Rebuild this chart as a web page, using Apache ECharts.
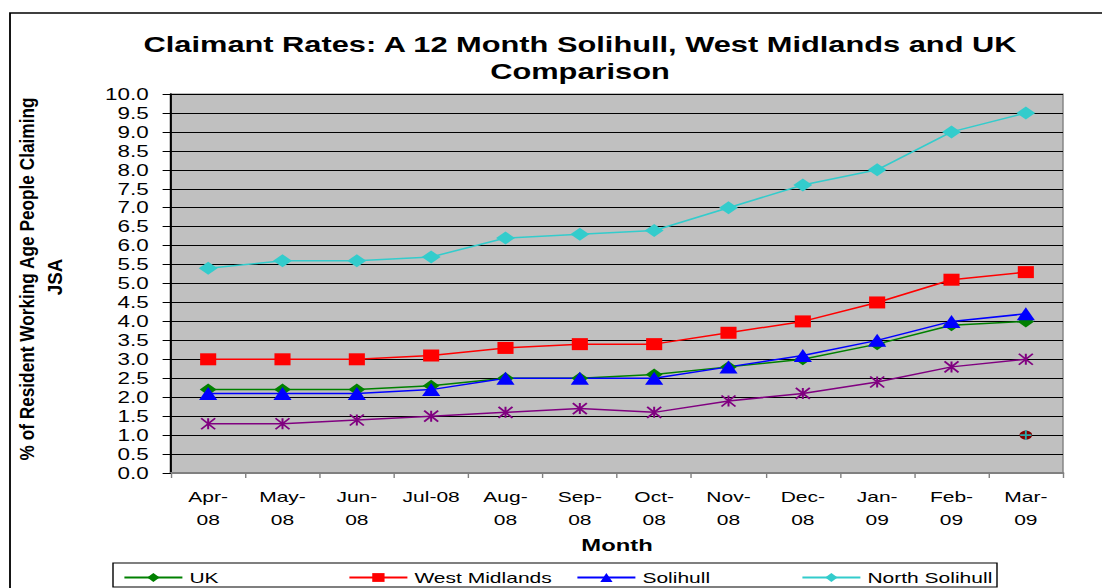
<!DOCTYPE html>
<html><head><meta charset="utf-8">
<script src="https://cdn.jsdelivr.net/npm/echarts@6/dist/echarts.min.js"></script>
<style>
html,body{margin:0;padding:0;overflow:hidden;background:#fff;width:1102px;height:588px}
#wrap{width:1102px;height:588px;overflow:hidden;position:relative;background:#fff}
#c{position:absolute;left:0;top:0;width:787px;height:588px;transform:scaleX(1.40025);transform-origin:0 0}
</style></head>
<body><div id="wrap"><div id="c"></div></div>
<script>
const S = 1102 / 787;
const months = ['Apr-08','May-08','Jun-08','Jul-08','Aug-08','Sep-08','Oct-08','Nov-08','Dec-08','Jan-09','Feb-09','Mar-09'];
const monthLabels = ['Apr-\n08','May-\n08','Jun-\n08','Jul-08','Aug-\n08','Sep-\n08','Oct-\n08','Nov-\n08','Dec-\n08','Jan-\n09','Feb-\n09','Mar-\n09'];
const yTicks = ['0.0','0.5','1.0','1.5','2.0','2.5','3.0','3.5','4.0','4.5','5.0','5.5','6.0','6.5','7.0','7.5','8.0','8.5','9.0','9.5','10.0'];
const seriesNames = ['UK','West Midlands','Solihull','North Solihull','Non North Solihull','Series 6','Series 7'];
const uk       = [2.2,2.2,2.2,2.3,2.5,2.5,2.6,2.8,3.0,3.4,3.9,4.0];
const westMid  = [3.0,3.0,3.0,3.1,3.3,3.4,3.4,3.7,4.0,4.5,5.1,5.3];
const solihull = [2.1,2.1,2.1,2.2,2.5,2.5,2.5,2.8,3.1,3.5,4.0,4.2];
const northSol = [5.4,5.6,5.6,5.7,6.2,6.3,6.4,7.0,7.6,8.0,9.0,9.5];
const nonNorth = [1.3,1.3,1.4,1.5,1.6,1.7,1.6,1.9,2.1,2.4,2.8,3.0];
const series6  = [null,null,null,null,null,null,null,null,null,null,null,1.0];
const series7  = [null,null,null,null,null,null,null,null,null,null,null,1.0];

const FONT = 'Liberation Sans, Arial, sans-serif';
const chart = echarts.init(document.getElementById('c'), null, {renderer: 'svg'});

function mk(name, data, color, symbol, size, extra) {
  return Object.assign({
    name: name, type: 'line', data: data,
    symbol: symbol, symbolSize: size, showSymbol: true,
    lineStyle: {color: color, width: 1.5},
    itemStyle: {color: color, borderWidth: 0},
    emphasis: {disabled: true},
    animation: false
  }, extra || {});
}

const legendPos = [
  {x: 123, y: 570}, {x: 348, y: 570}, {x: 576, y: 570}, {x: 801, y: 570},
  {x: 123, y: 587}, {x: 348, y: 587}, {x: 576, y: 587}
];

const option = {
  backgroundColor: '#fff',
  animation: false,
  title: {
    text: 'Claimant Rates: A 12 Month Solihull, West Midlands and UK\nComparison',
    left: 580 / S, top: 31, padding: 0, textAlign: 'center',
    textStyle: {fontFamily: FONT, fontSize: 22, fontWeight: 'bold', color: '#000', lineHeight: 27}
  },
  legend: legendPos.map((p, i) => ({
    data: [seriesNames[i]],
    left: p.x / S, top: p.y, padding: 0,
    itemWidth: 58 / S, itemHeight: 11,
    selectedMode: false,
    textStyle: {fontFamily: FONT, fontSize: 15, color: '#000', padding: [0, 0, 0, 0]}
  })),
  grid: {
    left: 171 / S, right: 787 - 1063 / S, top: 94, bottom: 588 - 473,
    show: true, backgroundColor: '#C0C0C0', borderColor: '#808080', borderWidth: 1
  },
  xAxis: {
    type: 'category', data: months, boundaryGap: true,
    name: 'Month', nameLocation: 'middle', nameGap: 61,
    nameTextStyle: {fontFamily: FONT, fontSize: 17, fontWeight: 'bold', color: '#000'},
    axisLine: {lineStyle: {color: '#808080', width: 2}},
    axisTick: {show: true, length: 5, lineStyle: {color: '#808080', width: 1}},
    axisLabel: {
      interval: 0, margin: 12, fontFamily: FONT, fontSize: 15, color: '#000', lineHeight: 23,
      formatter: (v, i) => monthLabels[i]
    },
    splitLine: {show: false}
  },
  yAxis: {
    type: 'value', min: 0, max: 10, interval: 0.5,
    axisLine: {show: true, lineStyle: {color: '#000', width: 1.5}},
    axisTick: {show: true, length: 6, lineStyle: {color: '#000', width: 1}},
    axisLabel: {
      margin: 16, fontFamily: FONT, fontSize: 16, color: '#000',
      formatter: (v) => yTicks[Math.round(v * 2)]
    },
    splitLine: {show: true, lineStyle: {color: '#000', width: 1}}
  },
  series: [
    mk(seriesNames[0], uk, '#008000', 'diamond', [12, 12]),
    mk(seriesNames[1], westMid, '#FF0000', 'rect', [11.5, 12]),
    mk(seriesNames[2], solihull, '#0000FF', 'triangle', [13, 13]),
    mk(seriesNames[3], northSol, '#33CCCC', 'diamond', [13.5, 13]),
    mk(seriesNames[4], nonNorth, '#800080', 'path://M0,0L10,10M10,0L0,10M5,0L5,10', [10, 11],
      {itemStyle: {color: '#800080', borderColor: '#800080', borderWidth: 1.5}}),
    mk(seriesNames[5], series6, '#800000', 'circle', [9, 9]),
    mk(seriesNames[6], series7, '#2AA8A8', 'path://M5,0L5,10M0,5L10,5', [8, 10],
      {itemStyle: {color: '#2AA8A8', borderColor: '#2AA8A8', borderWidth: 1.5}})
  ],
  graphic: [
    {type: 'rect', silent: true, z: -10, shape: {x: 10 / S, y: 13, width: 2000, height: 1000},
     style: {fill: 'none', stroke: '#000', lineWidth: 1.3}},
    {type: 'rect', silent: true, z: -5, shape: {x: 113 / S, y: 563, width: (997 - 113) / S, height: 24},
     style: {fill: '#fff', stroke: '#000', lineWidth: 1}},
    {type: 'text', silent: true, x: 27 / S, y: 279, rotation: Math.PI / 2, scaleX: 1.15,
     style: {text: '% of Resident Working Age People Claiming', font: 'bold 15px ' + FONT,
             fill: '#000', textAlign: 'center', textVerticalAlign: 'middle'}},
    {type: 'text', silent: true, x: 55 / S, y: 277, rotation: Math.PI / 2, scaleX: 1.25,
     style: {text: 'JSA', font: 'bold 15px ' + FONT,
             fill: '#000', textAlign: 'center', textVerticalAlign: 'middle'}}
  ]
};
chart.setOption(option);
</script>
</body></html>
